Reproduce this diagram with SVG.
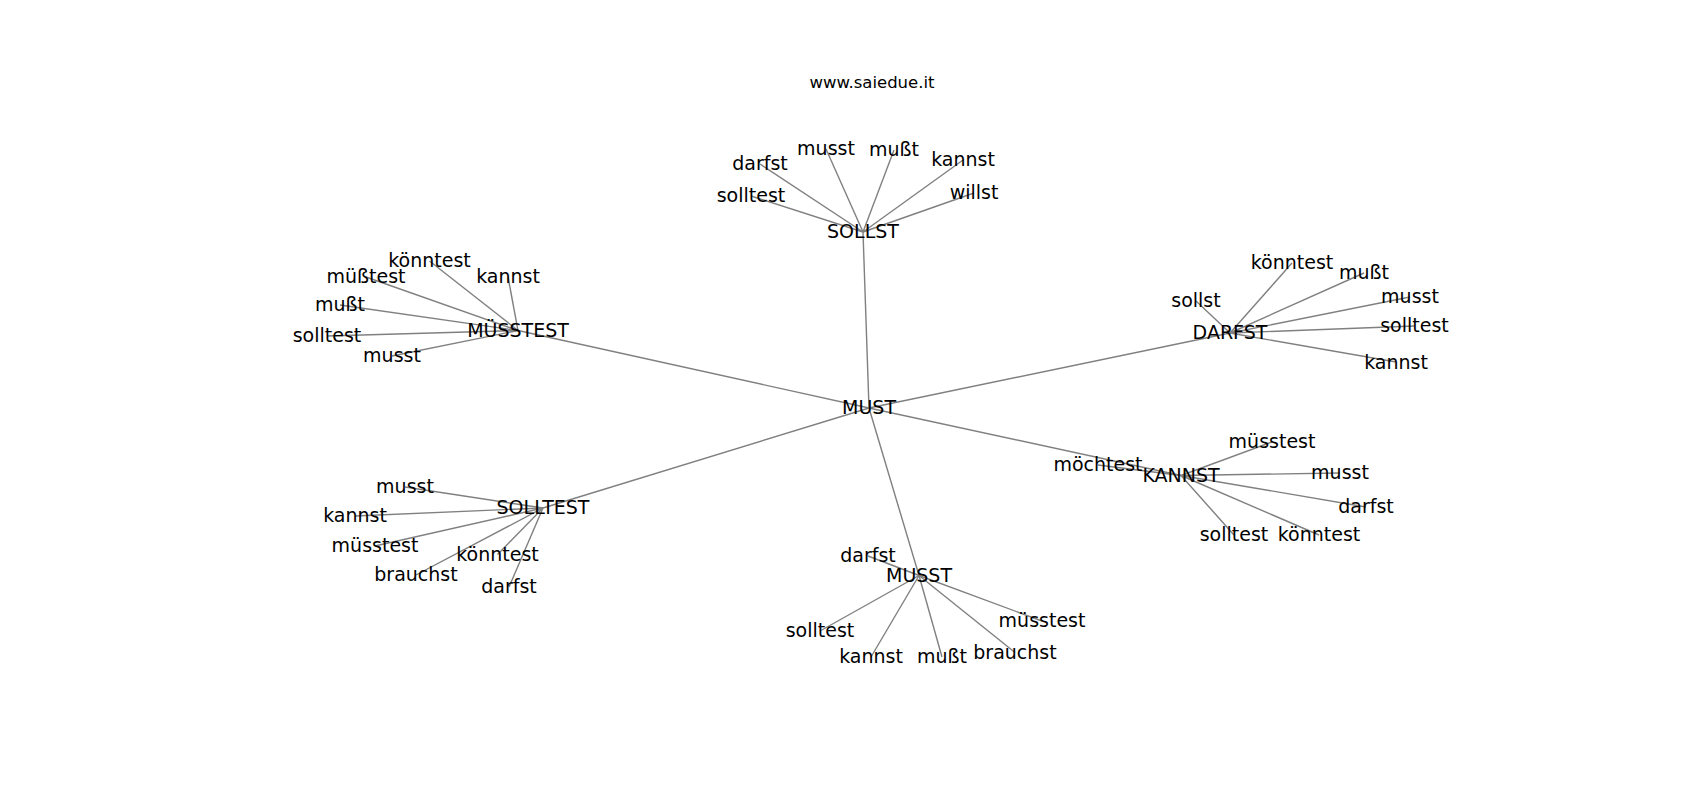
<svg xmlns="http://www.w3.org/2000/svg" width="1700" height="800" viewBox="0 0 1700 800">
<style>
.e{stroke:#808080;stroke-width:1.4;fill:none}
text{font-family:"DejaVu Sans",sans-serif;font-size:19px;fill:#000;text-anchor:middle}
.t{font-size:16.5px}
</style>
<rect width="1700" height="800" fill="#fff"/>
<text class="t" x="872" y="88">www.saiedue.it</text>
<g id="edges">
<line class="e" x1="869" y1="408" x2="863" y2="232"/>
<line class="e" x1="869" y1="408" x2="518" y2="330.5"/>
<line class="e" x1="869" y1="408" x2="1230" y2="333"/>
<line class="e" x1="869" y1="408" x2="1181" y2="475.5"/>
<line class="e" x1="869" y1="408" x2="543" y2="508"/>
<line class="e" x1="869" y1="408" x2="919" y2="575.5"/>
<line class="e" x1="863" y1="232" x2="760" y2="164"/>
<line class="e" x1="863" y1="232" x2="826" y2="149"/>
<line class="e" x1="863" y1="232" x2="894" y2="150"/>
<line class="e" x1="863" y1="232" x2="963" y2="160"/>
<line class="e" x1="863" y1="232" x2="751" y2="196"/>
<line class="e" x1="863" y1="232" x2="974" y2="193"/>
<line class="e" x1="518" y1="330.5" x2="429.5" y2="261"/>
<line class="e" x1="518" y1="330.5" x2="366" y2="277"/>
<line class="e" x1="518" y1="330.5" x2="508" y2="277"/>
<line class="e" x1="518" y1="330.5" x2="340" y2="305"/>
<line class="e" x1="518" y1="330.5" x2="327" y2="336"/>
<line class="e" x1="518" y1="330.5" x2="392" y2="356"/>
<line class="e" x1="1230" y1="333" x2="1292" y2="263"/>
<line class="e" x1="1230" y1="333" x2="1364" y2="273"/>
<line class="e" x1="1230" y1="333" x2="1410" y2="297"/>
<line class="e" x1="1230" y1="333" x2="1414.5" y2="326"/>
<line class="e" x1="1230" y1="333" x2="1396" y2="362"/>
<line class="e" x1="1230" y1="333" x2="1196" y2="301"/>
<line class="e" x1="1181" y1="475.5" x2="1098" y2="465"/>
<line class="e" x1="1181" y1="475.5" x2="1272" y2="442"/>
<line class="e" x1="1181" y1="475.5" x2="1340" y2="473"/>
<line class="e" x1="1181" y1="475.5" x2="1366" y2="507"/>
<line class="e" x1="1181" y1="475.5" x2="1234" y2="535"/>
<line class="e" x1="1181" y1="475.5" x2="1319" y2="535"/>
<line class="e" x1="543" y1="508" x2="405" y2="487"/>
<line class="e" x1="543" y1="508" x2="355" y2="516"/>
<line class="e" x1="543" y1="508" x2="375" y2="546"/>
<line class="e" x1="543" y1="508" x2="416" y2="575"/>
<line class="e" x1="543" y1="508" x2="497.5" y2="554.5"/>
<line class="e" x1="543" y1="508" x2="509" y2="587"/>
<line class="e" x1="919" y1="575.5" x2="868" y2="556"/>
<line class="e" x1="919" y1="575.5" x2="820" y2="631"/>
<line class="e" x1="919" y1="575.5" x2="871" y2="657"/>
<line class="e" x1="919" y1="575.5" x2="942" y2="657"/>
<line class="e" x1="919" y1="575.5" x2="1015" y2="652.5"/>
<line class="e" x1="919" y1="575.5" x2="1042" y2="621"/>
</g>
<g id="n-MUST"><text x="869" y="414">MUST</text></g>
<g id="n-SOLLST"><text x="863" y="238">SOLLST</text></g>
<g id="n-MUESSTEST"><text x="518" y="336.5">MÜSSTEST</text></g>
<g id="n-DARFST"><text x="1230" y="339">DARFST</text></g>
<g id="n-KANNST"><text x="1181" y="481.5">KANNST</text></g>
<g id="n-SOLLTEST"><text x="543" y="514">SOLLTEST</text></g>
<g id="n-MUSST"><text x="919" y="581.5">MUSST</text></g>
<g id="n-sollst-darfst"><text x="760" y="170">darfst</text></g>
<g id="n-sollst-musst"><text x="826" y="155">musst</text></g>
<g id="n-sollst-musst2"><text x="894" y="156">mußt</text></g>
<g id="n-sollst-kannst"><text x="963" y="166">kannst</text></g>
<g id="n-sollst-solltest"><text x="751" y="202">solltest</text></g>
<g id="n-sollst-willst"><text x="974" y="199">willst</text></g>
<g id="n-muesstest-koenntest"><text x="429.5" y="267">könntest</text></g>
<g id="n-muesstest-muesstest"><text x="366" y="283">müßtest</text></g>
<g id="n-muesstest-kannst"><text x="508" y="283">kannst</text></g>
<g id="n-muesstest-musst2"><text x="340" y="311">mußt</text></g>
<g id="n-muesstest-solltest"><text x="327" y="342">solltest</text></g>
<g id="n-muesstest-musst"><text x="392" y="362">musst</text></g>
<g id="n-darfst-koenntest"><text x="1292" y="269">könntest</text></g>
<g id="n-darfst-musst2"><text x="1364" y="279">mußt</text></g>
<g id="n-darfst-musst"><text x="1410" y="303">musst</text></g>
<g id="n-darfst-solltest"><text x="1414.5" y="332">solltest</text></g>
<g id="n-darfst-kannst"><text x="1396" y="369">kannst</text></g>
<g id="n-darfst-sollst"><text x="1196" y="307">sollst</text></g>
<g id="n-kannst-moechtest"><text x="1098" y="471">möchtest</text></g>
<g id="n-kannst-muesstest"><text x="1272" y="448">müsstest</text></g>
<g id="n-kannst-musst"><text x="1340" y="479">musst</text></g>
<g id="n-kannst-darfst"><text x="1366" y="513">darfst</text></g>
<g id="n-kannst-solltest"><text x="1234" y="541">solltest</text></g>
<g id="n-kannst-koenntest"><text x="1319" y="541">könntest</text></g>
<g id="n-solltest-musst"><text x="405" y="493">musst</text></g>
<g id="n-solltest-kannst"><text x="355" y="522">kannst</text></g>
<g id="n-solltest-muesstest"><text x="375" y="552">müsstest</text></g>
<g id="n-solltest-brauchst"><text x="416" y="581">brauchst</text></g>
<g id="n-solltest-koenntest"><text x="497.5" y="560.5">könntest</text></g>
<g id="n-solltest-darfst"><text x="509" y="593">darfst</text></g>
<g id="n-musst-darfst"><text x="868" y="562">darfst</text></g>
<g id="n-musst-solltest"><text x="820" y="637">solltest</text></g>
<g id="n-musst-kannst"><text x="871" y="663">kannst</text></g>
<g id="n-musst-musst2"><text x="942" y="663">mußt</text></g>
<g id="n-musst-brauchst"><text x="1015" y="658.5">brauchst</text></g>
<g id="n-musst-muesstest"><text x="1042" y="627">müsstest</text></g>
</svg>
